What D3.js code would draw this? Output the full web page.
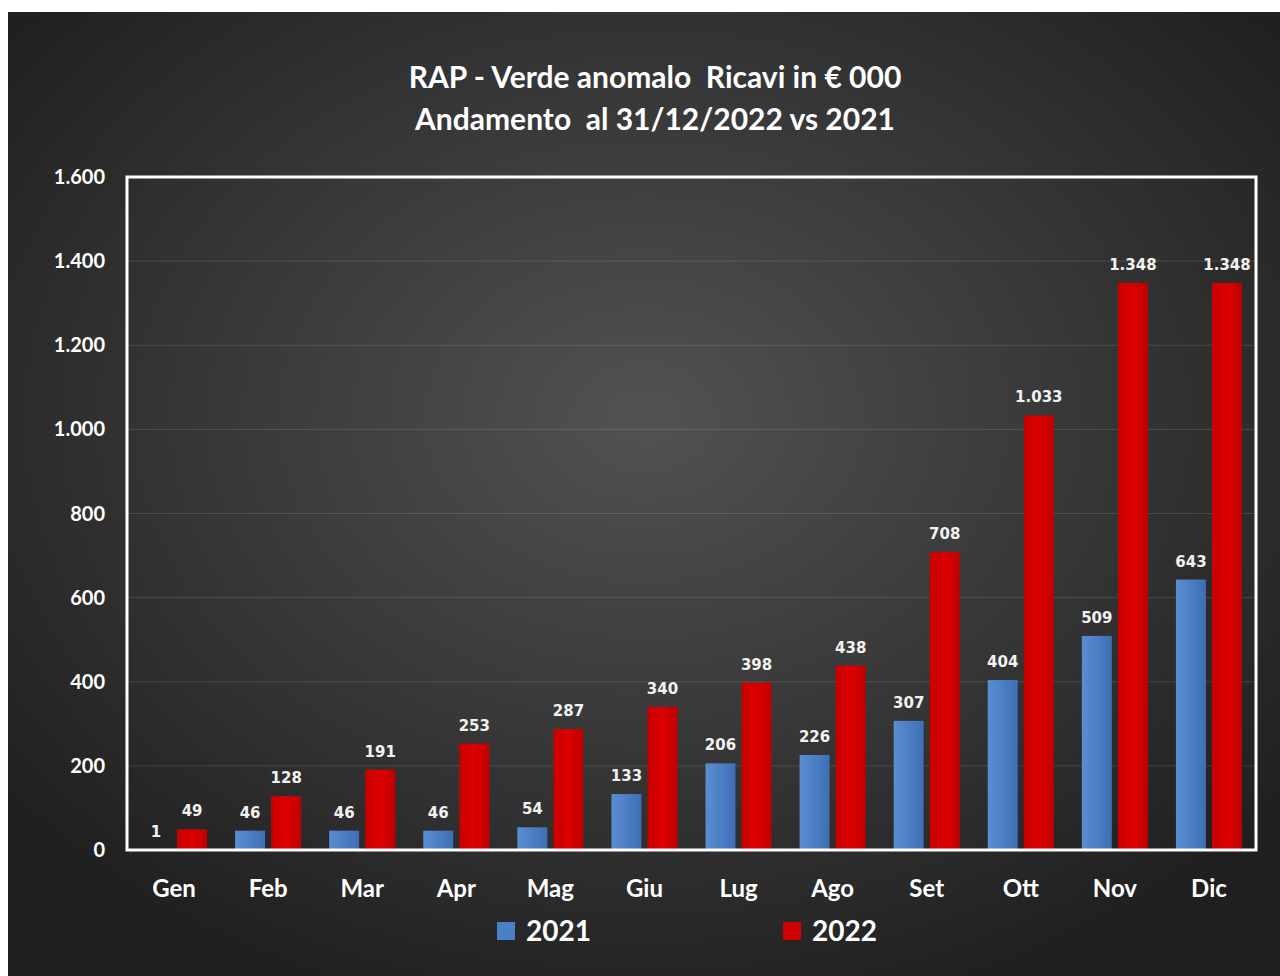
<!DOCTYPE html>
<html>
<head>
<meta charset="utf-8">
<script src="https://cdn.jsdelivr.net/npm/d3@7"></script>
<style>
  body { margin: 0; background: #fff; }
  svg { display: block; }
</style>
</head>
<body>
<div class="chart-wrapper"></div>
<script>
const months = ['Gen', 'Feb', 'Mar', 'Apr', 'Mag', 'Giu', 'Lug', 'Ago', 'Set', 'Ott', 'Nov', 'Dic']
const series = ['2021', '2022']
const values2021 = [1, 46, 46, 46, 54, 133, 206, 226, 307, 404, 509, 643]
const values2022 = [49, 128, 191, 253, 287, 340, 398, 438, 708, 1033, 1348, 1348]
const yTicks = [0, 200, 400, 600, 800, 1000, 1200, 1400, 1600]
const titleLines = ['RAP - Verde anomalo  Ricavi in € 000', 'Andamento  al 31/12/2022 vs 2021']

const width = 1280
const height = 976

const plot = { left: 127, right: 1256, top: 177, bottom: 850 }

// italian style thousands: 1.348
const fmt = d3.formatLocale({ decimal: ',', thousands: '.', grouping: [3], currency: ['€', ''] }).format(',d')

const svg = d3.select('.chart-wrapper')
.append('svg')
.attr('width', width)
.attr('height', height)

const defs = svg.append('defs')

const bg = defs.append('radialGradient')
.attr('id', 'bg')
.attr('cx', '0.5').attr('cy', '0.42').attr('r', '0.65')
bg.append('stop').attr('offset', '0%').attr('stop-color', '#525252')
bg.append('stop').attr('offset', '100%').attr('stop-color', '#1f1f1f')

const blue = defs.append('linearGradient').attr('id', 'blue').attr('x1', 0).attr('x2', 1).attr('y1', 0).attr('y2', 0)
blue.append('stop').attr('offset', '0%').attr('stop-color', '#5a8ed2')
blue.append('stop').attr('offset', '100%').attr('stop-color', '#3e6fb4')

const red = defs.append('linearGradient').attr('id', 'red').attr('x1', 0).attr('x2', 1).attr('y1', 0).attr('y2', 0)
red.append('stop').attr('offset', '0%').attr('stop-color', '#c80000')
red.append('stop').attr('offset', '50%').attr('stop-color', '#dc0000')
red.append('stop').attr('offset', '100%').attr('stop-color', '#c00000')

const colors = { '2021': 'url(#blue)', '2022': 'url(#red)' }
const legendColors = { '2021': '#4a80c8', '2022': '#d00000' }

svg.append('rect')
.attr('x', 8).attr('y', 12)
.attr('width', width - 8).attr('height', height - 12)
.attr('fill', 'url(#bg)')

const x = d3.scaleBand()
.domain(months)
.range([plot.left, plot.right])
.paddingInner(0.298)
.paddingOuter(0.149)

const xInner = d3.scaleBand()
.domain(series)
.range([0, x.bandwidth()])
.paddingInner(0.17)

const y = d3.scaleLinear()
.domain([0, 1600])
.range([plot.bottom, plot.top])

// gridlines
svg.append('g')
.selectAll('line')
.data(yTicks.filter(d => d > 0 && d < 1600))
.enter()
.append('line')
.attr('x1', plot.left).attr('x2', plot.right)
.attr('y1', d => y(d)).attr('y2', d => y(d))
.attr('stroke', 'rgba(255,255,255,0.13)')
.attr('stroke-width', 1)

// y tick labels
svg.append('g')
.selectAll('text')
.data(yTicks)
.enter()
.append('text')
.attr('x', 105)
.attr('y', d => y(d))
.attr('dy', '0.35em')
.attr('text-anchor', 'end')
.attr('fill', '#fff')
.style('font', 'bold 20px Lato, "Open Sans", sans-serif')
.text(d => fmt(d))

const rows = months.map((m, i) => ({ month: m, '2021': values2021[i], '2022': values2022[i] }))

const groups = svg.append('g')
.selectAll('g')
.data(rows)
.enter()
.append('g')
.attr('transform', d => `translate(${x(d.month)},0)`)

groups.selectAll('rect')
.data(d => series.map(s => ({ key: s, value: d[s] })))
.enter()
.append('rect')
.attr('x', d => xInner(d.key))
.attr('width', xInner.bandwidth())
.attr('y', d => y(d.value))
.attr('height', d => plot.bottom - y(d.value))
.attr('fill', d => colors[d.key])

groups.selectAll('text')
.data(d => series.map(s => ({ key: s, value: d[s] })))
.enter()
.append('text')
.attr('x', d => xInner(d.key) + xInner.bandwidth() / 2)
.attr('y', d => y(d.value) - 13)
.attr('text-anchor', 'middle')
.attr('fill', '#f2f2f2')
.style('font', 'bold 15px "DejaVu Sans", Verdana, sans-serif')
.text(d => fmt(d.value))

// frame
svg.append('rect')
.attr('x', plot.left).attr('y', plot.top)
.attr('width', plot.right - plot.left)
.attr('height', plot.bottom - plot.top)
.attr('fill', 'none')
.attr('stroke', '#fff')
.attr('stroke-width', 3)

// month labels
svg.append('g')
.selectAll('text')
.data(months)
.enter()
.append('text')
.attr('x', d => x(d) + x.bandwidth() / 2)
.attr('y', 897)
.attr('text-anchor', 'middle')
.attr('fill', '#fff')
.style('font', 'bold 24px Lato, "Open Sans", sans-serif')
.text(d => d)

// title
svg.append('g')
.selectAll('text')
.data(titleLines)
.enter()
.append('text')
.attr('x', 655)
.attr('y', (d, i) => 88 + i * 42)
.attr('text-anchor', 'middle')
.attr('fill', '#fff')
.style('font', 'bold 30px Lato, "Open Sans", sans-serif')
.style('white-space', 'pre')
.text(d => d)

// legend
const legendX = { '2021': 497, '2022': 783 }
const legend = svg.append('g')
.selectAll('g')
.data(series)
.enter()
.append('g')
.attr('transform', d => `translate(${legendX[d]},922)`)

legend.append('rect')
.attr('width', 18).attr('height', 18)
.attr('fill', d => legendColors[d])

legend.append('text')
.attr('x', 29)
.attr('y', 19)
.attr('fill', '#fff')
.style('font', 'bold 28px Lato, "Open Sans", sans-serif')
.text(d => d)
</script>
</body>
</html>
